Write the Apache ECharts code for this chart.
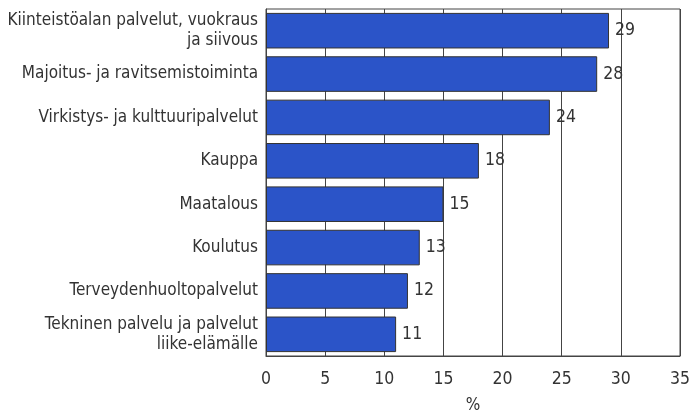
<!DOCTYPE html>
<html><head><meta charset="utf-8">
<script src="https://cdn.jsdelivr.net/npm/echarts@6/dist/echarts.min.js"></script>
<style>html,body{margin:0;padding:0;background:#fff}#c{width:692px;height:410px}</style>
</head><body><div id="c"></div>
<script>
const categories = [
  "Kiinteistöalan palvelut, vuokraus\nja siivous",
  "Majoitus- ja ravitsemistoiminta",
  "Virkistys- ja kulttuuripalvelut",
  "Kauppa",
  "Maatalous",
  "Koulutus",
  "Terveydenhuoltopalvelut",
  "Tekninen palvelu ja palvelut\nliike-elämälle"
];
const values = [29, 28, 24, 18, 15, 13, 12, 11];
const xTicks = [0, 5, 10, 15, 20, 25, 30, 35];
const axisTitle = "%";

const FONT = "'Liberation Sans Narrow', 'DejaVu Sans Condensed', 'Liberation Sans', sans-serif";
const chart = echarts.init(document.getElementById('c'));
chart.setOption({
  animation: false,
  grid: { left: 266, right: 12, top: 9, bottom: 54, outerBoundsMode: 'none', containLabel: false,
          show: true, borderColor: '#444', borderWidth: 1 },
  xAxis: {
    type: 'value', min: xTicks[0], max: xTicks[xTicks.length - 1], interval: 5,
    name: axisTitle, nameLocation: 'middle', nameGap: 41,
    nameTextStyle: { fontFamily: FONT, fontSize: 17, color: '#333' },
    axisLine: { show: true, lineStyle: { color: '#444' } },
    axisTick: { show: false },
    axisLabel: { fontFamily: FONT, fontSize: 17.5, color: '#333', margin: 14 },
    splitLine: { show: true, lineStyle: { color: '#444', width: 1 } }
  },
  yAxis: {
    type: 'category', data: categories, inverse: true,
    axisLine: { show: true, lineStyle: { color: '#444' } },
    axisTick: { show: false },
    axisLabel: { fontFamily: FONT, fontSize: 17, color: '#333', margin: 8, lineHeight: 20, align: 'right' }
  },
  series: [{
    type: 'bar', data: values, barCategoryGap: '18%',
    itemStyle: { color: '#2b54c8', borderColor: '#333', borderWidth: 1 },
    label: { show: true, position: 'right', distance: 6, fontFamily: FONT, fontSize: 17.5, color: '#333' }
  }]
});
</script></body></html>
